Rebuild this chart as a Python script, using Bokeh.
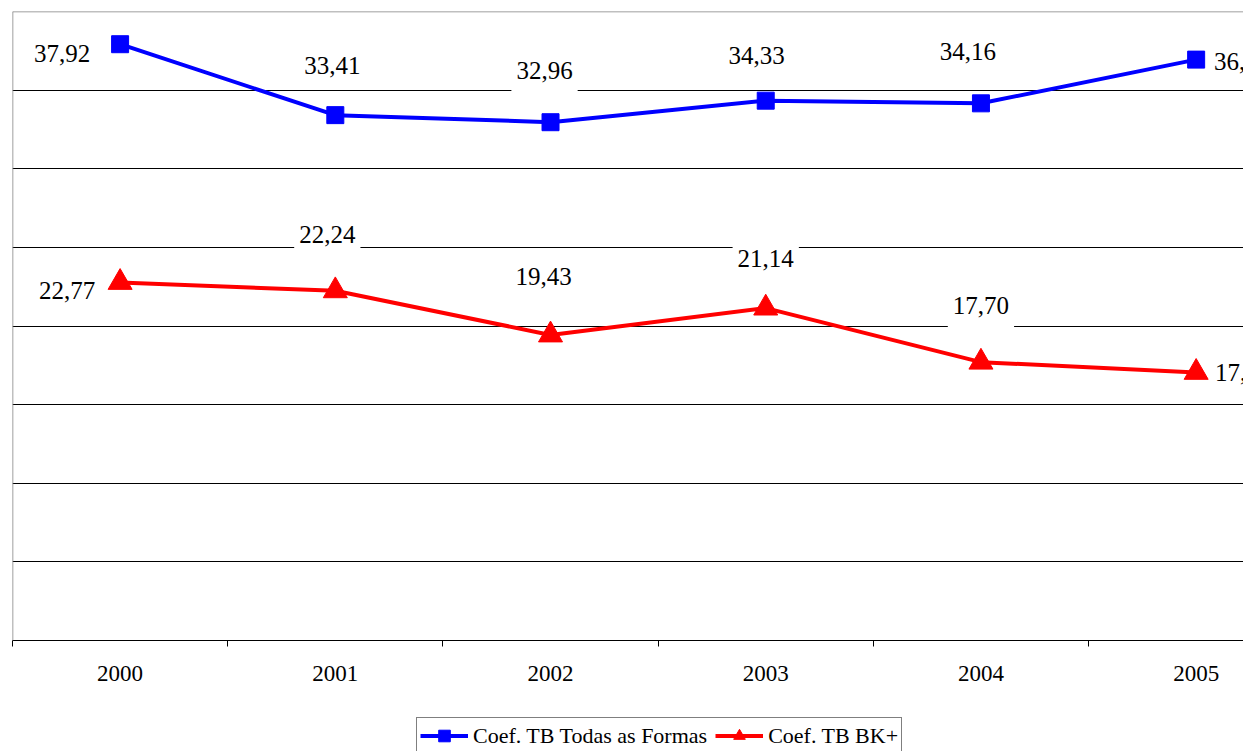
from bokeh.plotting import figure
from bokeh.models import (ColumnDataSource, Range1d, FixedTicker, Label,
                          Legend, LegendItem, Span)
from bokeh.layouts import column
from bokeh.embed import file_html
from bokeh.resources import INLINE

# ---- data ----
years = ["2000", "2001", "2002", "2003", "2004", "2005"]
todas = [37.92, 33.41, 32.96, 34.33, 34.16, 36.94]
bk = [22.77, 22.24, 19.43, 21.14, 17.70, 17.05]
series_names = ["Coef. TB Todas as Formas", "Coef. TB BK+"]

# ---- label placement (screen offsets, px) ----
todas_dx = [-58, -3, -6, -9, -13, 46]
todas_dy = [-9, 50, 52, 45, 52, -2]
bk_dx = [-53, -8, -7, 0, 0, 47]
bk_dy = [-8, 56, 58, 50, 57, 0]

FONT = "Liberation Serif"
BLUE = "#0000FF"
RED = "#FF0000"
PAD = dict(left=5, right=5, top=8, bottom=15)
PAD_SHIFT = -(PAD["bottom"] - PAD["top"]) / 2.0   # keep text centred on its anchor

def fmt(v):
    return f"{v:.2f}".replace(".", ",")

xs = list(range(len(years)))

p = figure(width=1243, height=700,
           x_range=Range1d(-0.5, 5.22), y_range=Range1d(0, 40),
           output_backend="svg", toolbar_location=None,
           min_border_left=12, min_border_right=0,
           min_border_top=11, min_border_bottom=60)
p.outline_line_color = None
p.background_fill_color = "white"
p.border_fill_color = "white"
p.yaxis.visible = False
p.xgrid.visible = False
p.ygrid.ticker = FixedTicker(ticks=[5, 10, 15, 20, 25, 30, 35])
p.ygrid.grid_line_color = "black"
p.ygrid.grid_line_width = 1

# plot-area border (top and left, grey)
p.add_layout(Span(location=40, dimension="width", line_color="#808080", line_width=1.5))
p.add_layout(Span(location=-0.5, dimension="height", line_color="#808080", line_width=1.5))

# x axis
xa = p.xaxis[0]
xa.ticker = FixedTicker(ticks=xs, minor_ticks=[i - 0.5 for i in range(len(years) + 1)])
xa.major_label_overrides = {i: y for i, y in enumerate(years)}
xa.major_tick_in = 0
xa.major_tick_out = 0
xa.minor_tick_in = 0
xa.minor_tick_out = 6
xa.minor_tick_line_color = "black"
xa.axis_line_color = "black"
xa.axis_line_width = 1
xa.major_label_text_font = FONT
xa.major_label_text_font_size = "23px"
xa.major_label_text_color = "black"
xa.major_label_standoff = 19

src_t = ColumnDataSource(dict(x=xs, y=todas))
src_b = ColumnDataSource(dict(x=xs, y=bk))

p.line("x", "y", source=src_t, line_color=BLUE, line_width=4)
p.scatter("x", "y", source=src_t, marker="square", size=17,
          fill_color=BLUE, line_color=BLUE, line_width=1)
p.line("x", "y", source=src_b, line_color=RED, line_width=4)
p.scatter("x", "y", source=src_b, marker="triangle", size=24,
          fill_color=RED, line_color=RED, line_width=1)

def make_label(**kw):
    try:
        return Label(padding=PAD, **kw)
    except Exception:
        return Label(padding=5, **kw)

for vals, dxs, dys in ((todas, todas_dx, todas_dy), (bk, bk_dx, bk_dy)):
    for xi, v, dx, dy in zip(xs, vals, dxs, dys):
        p.add_layout(make_label(x=xi, y=v, text=fmt(v),
                                x_offset=dx, y_offset=dy + PAD_SHIFT,
                                text_align="center", text_baseline="middle",
                                text_font=FONT, text_font_size="25px",
                                text_color="black",
                                background_fill_color="white",
                                background_fill_alpha=1.0))

# ---- legend strip ----
q = figure(width=1243, height=51, x_range=Range1d(0, 1), y_range=Range1d(0, 1),
           output_backend="svg", toolbar_location=None,
           x_axis_location=None, y_axis_location=None,
           min_border_left=0, min_border_right=0,
           min_border_top=0, min_border_bottom=0)
q.outline_line_color = None
q.grid.visible = False
q.background_fill_color = "white"
q.border_fill_color = "white"
hidden = ColumnDataSource(dict(x=[-10], y=[-10]))
glt = q.line("x", "y", source=hidden, line_color=BLUE, line_width=4)
gmt = q.scatter("x", "y", source=hidden, marker="square", size=14,
                fill_color=BLUE, line_color=BLUE)
glb = q.line("x", "y", source=hidden, line_color=RED, line_width=4)
gmb = q.scatter("x", "y", source=hidden, marker="triangle", size=14,
                fill_color=RED, line_color=RED)

legend = Legend(items=[LegendItem(label=series_names[0], renderers=[glt, gmt]),
                       LegendItem(label=series_names[1], renderers=[glb, gmb])],
                location=(404, -3), orientation="horizontal",
                border_line_color="black", border_line_width=1,
                background_fill_color="white", background_fill_alpha=1,
                label_text_font=FONT, label_text_font_size="22px",
                label_text_color="black",
                glyph_width=48, glyph_height=29, label_height=29,
                label_standoff=5, spacing=8, padding=3, margin=0)
q.add_layout(legend)

layout = column(p, q, spacing=0)
open("out.html", "w").write(file_html(layout, INLINE))
